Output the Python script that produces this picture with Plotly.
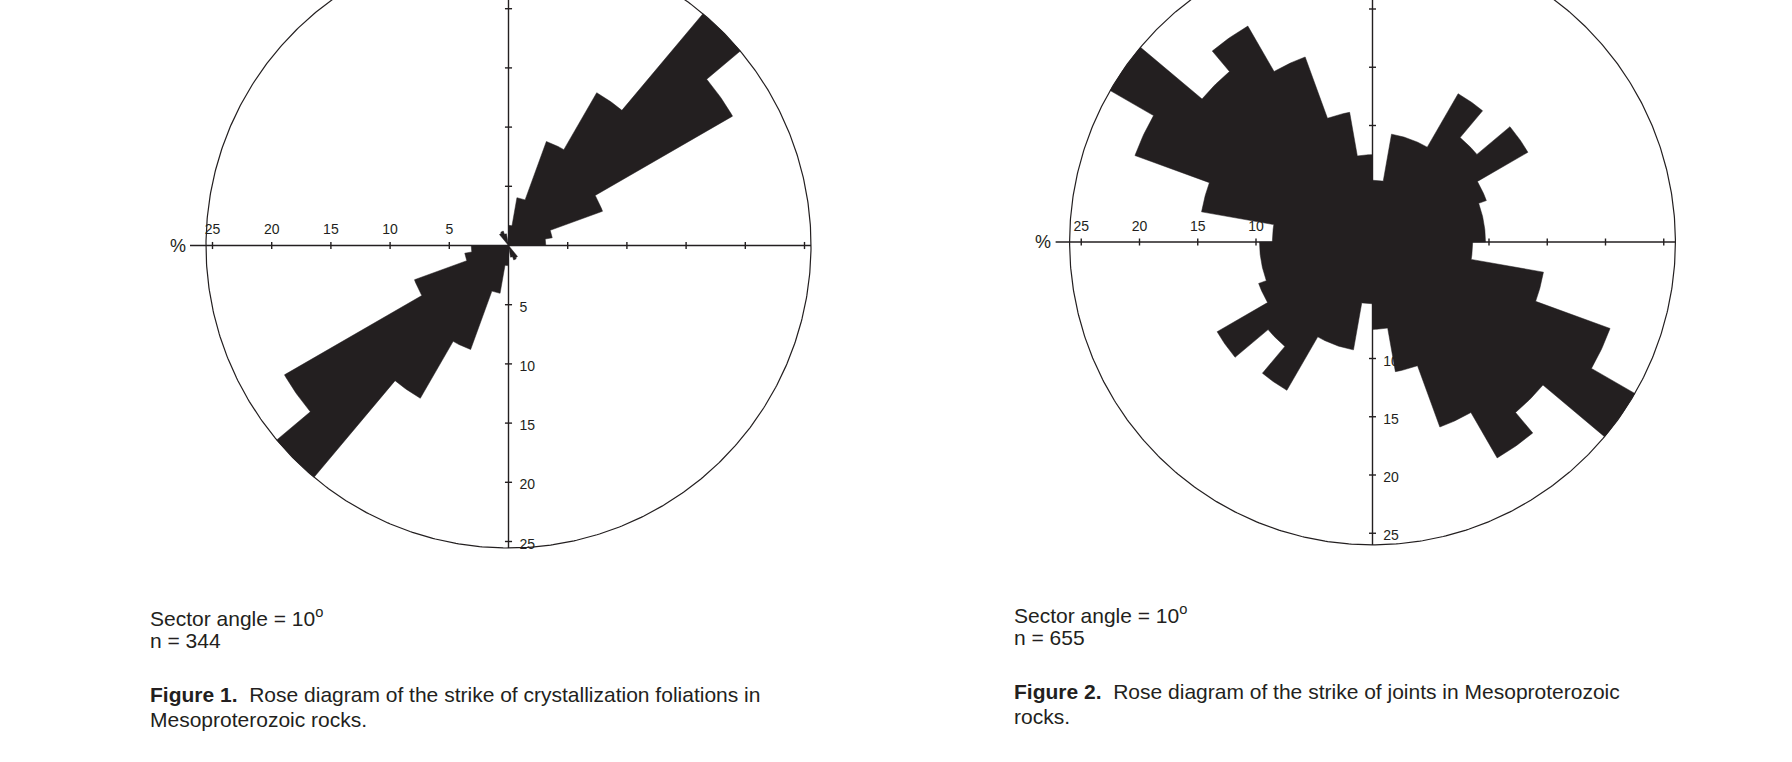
import numpy as np
import plotly.graph_objects as go

# ---------------- data ----------------
sector_start = list(range(0, 180, 10))          # strike sector start, degrees
sector_angle = 10
# percent per 10-degree sector (strike 0-180, mirrored for 180-360)
fig1_pct = [1.7, 4.1, 9.35, 14.9, 25.55, 21.85, 8.45, 3.75, 3.15,
            0, 0, 0, 0, 0, 1.2, 1.3, 1.0, 0]
fig2_pct = [5.3, 9.4, 9.4, 14.7, 11.7, 15.4, 10.4, 9.7, 9.7,
            8.6, 14.9, 21.7, 26.0, 19.1, 21.4, 16.9, 11.3, 7.5]
tick_vals = [5, 10, 15, 20, 25]
n_values = [344, 655]
captions = [
    ("Figure 1.", "Rose diagram of the strike of crystallization foliations in", "Mesoproterozoic rocks."),
    ("Figure 2.", "Rose diagram of the strike of joints in Mesoproterozoic", "rocks."),
]

# ---------------- layout constants ----------------
W, H = 1792, 762
FONT = "Liberation Sans, Arial, sans-serif"
INK = "#231f20"
panels = [
    dict(cx=508.5, cy=245.5, k=11.84, R=25.55, xl=26.9, dom=[0.0, 0.5],
         caption_x=148, caption_y=[617, 640, 694, 719]),
    dict(cx=1372.5, cy=242.0, k=11.65, R=26.0, xl=27.2, dom=[0.5, 1.0],
         caption_x=1012, caption_y=[614, 637, 691, 716]),
]
values = [fig1_pct, fig2_pct]


def rose_outline(starts, vals, step, n_arc=16):
    xs, ys = [], []
    all_starts = starts + [s + 180 for s in starts]
    all_vals = vals + vals
    for s, v in zip(all_starts, all_vals):
        a = np.radians(np.linspace(s, s + step, n_arc))
        xs.extend(list(v * np.sin(a)))
        ys.extend(list(v * np.cos(a)))
    xs.append(xs[0])
    ys.append(ys[0])
    return xs, ys


fig = go.Figure()
annotations = []
tl = 0.3  # tick half-length in %

for i, (p, vals) in enumerate(zip(panels, values)):
    xa = "x" if i == 0 else "x2"
    ya = "y" if i == 0 else "y2"
    R = p["R"]
    k = p["k"]

    # tick labels (drawn first so petals cover them)
    fig.add_trace(go.Scatter(
        x=[-v for v in tick_vals], y=[1.25] * len(tick_vals),
        text=[str(v) for v in tick_vals], mode="text", textposition="middle center",
        textfont=dict(family=FONT, size=14, color=INK),
        xaxis=xa, yaxis=ya, hoverinfo="skip", showlegend=False))
    fig.add_trace(go.Scatter(
        x=[0.93] * len(tick_vals), y=[-v - 3.5 / k for v in tick_vals],
        text=[str(v) for v in tick_vals], mode="text", textposition="middle right",
        textfont=dict(family=FONT, size=14, color=INK),
        xaxis=xa, yaxis=ya, hoverinfo="skip", showlegend=False))

    # axis lines and ticks
    lx, ly = [-p["xl"], R, None, 0, 0, None], [0, 0, None, -R, R, None]
    for v in tick_vals:
        for s in (-1, 1):
            lx += [s * v, s * v, None]
            ly += [-tl, tl, None]
            lx += [-tl, tl, None]
            ly += [s * v, s * v, None]
    fig.add_trace(go.Scatter(x=lx, y=ly, mode="lines", line=dict(color=INK, width=1.4),
                             xaxis=xa, yaxis=ya, hoverinfo="skip", showlegend=False))

    # rose petals
    rx, ry = rose_outline(sector_start, vals, sector_angle)
    fig.add_trace(go.Scatter(x=rx, y=ry, mode="lines", fill="toself",
                             fillcolor=INK, line=dict(color=INK, width=0.5),
                             xaxis=xa, yaxis=ya, hoverinfo="skip", showlegend=False))

    # outer circle
    t = np.linspace(0, 2 * np.pi, 721)
    fig.add_trace(go.Scatter(x=R * np.sin(t), y=R * np.cos(t), mode="lines",
                             line=dict(color=INK, width=1.2),
                             xaxis=xa, yaxis=ya, hoverinfo="skip", showlegend=False))

    # axis ranges mapped from pixel geometry
    x0 = p["dom"][0] * W
    x1 = p["dom"][1] * W
    xr = [(x0 - p["cx"]) / k, (x1 - p["cx"]) / k]
    yr = [(p["cy"] - H) / k, p["cy"] / k]
    axis_common = dict(showgrid=False, zeroline=False, showticklabels=False,
                       ticks="", showline=False, fixedrange=True)
    fig.update_layout(**{
        ("xaxis" if i == 0 else "xaxis2"): dict(domain=p["dom"], range=xr, anchor=ya, **axis_common),
        ("yaxis" if i == 0 else "yaxis2"): dict(domain=[0, 1], range=yr, anchor=xa, **axis_common),
    })

    # "%" label
    annotations.append(dict(x=-p["xl"] - 1.05, y=0, xref=xa, yref=ya, text="%",
                            showarrow=False, xanchor="center", yanchor="middle",
                            font=dict(family=FONT, size=18, color=INK)))

    # captions
    cxp = p["caption_x"] / W
    cy = p["caption_y"]
    bold, line1, line2 = captions[i]
    texts = [f"Sector angle = {sector_angle}<sup>o</sup>",
             f"n = {n_values[i]}",
             f"<b>{bold}</b>\u00a0 {line1}",
             line2]
    for txt, yy in zip(texts, cy):
        annotations.append(dict(x=cxp, y=1 - yy / H, xref="paper", yref="paper", text=txt,
                                showarrow=False, xanchor="left", yanchor="middle",
                                font=dict(family=FONT, size=21, color=INK)))

fig.update_layout(width=W, height=H, margin=dict(l=0, r=0, t=0, b=0, pad=0),
                  paper_bgcolor="white", plot_bgcolor="white",
                  annotations=annotations, showlegend=False)

fig.write_html("out.html", config={"displayModeBar": False},
               post_script="document.body.style.margin='0px';document.body.style.overflow='hidden';")
